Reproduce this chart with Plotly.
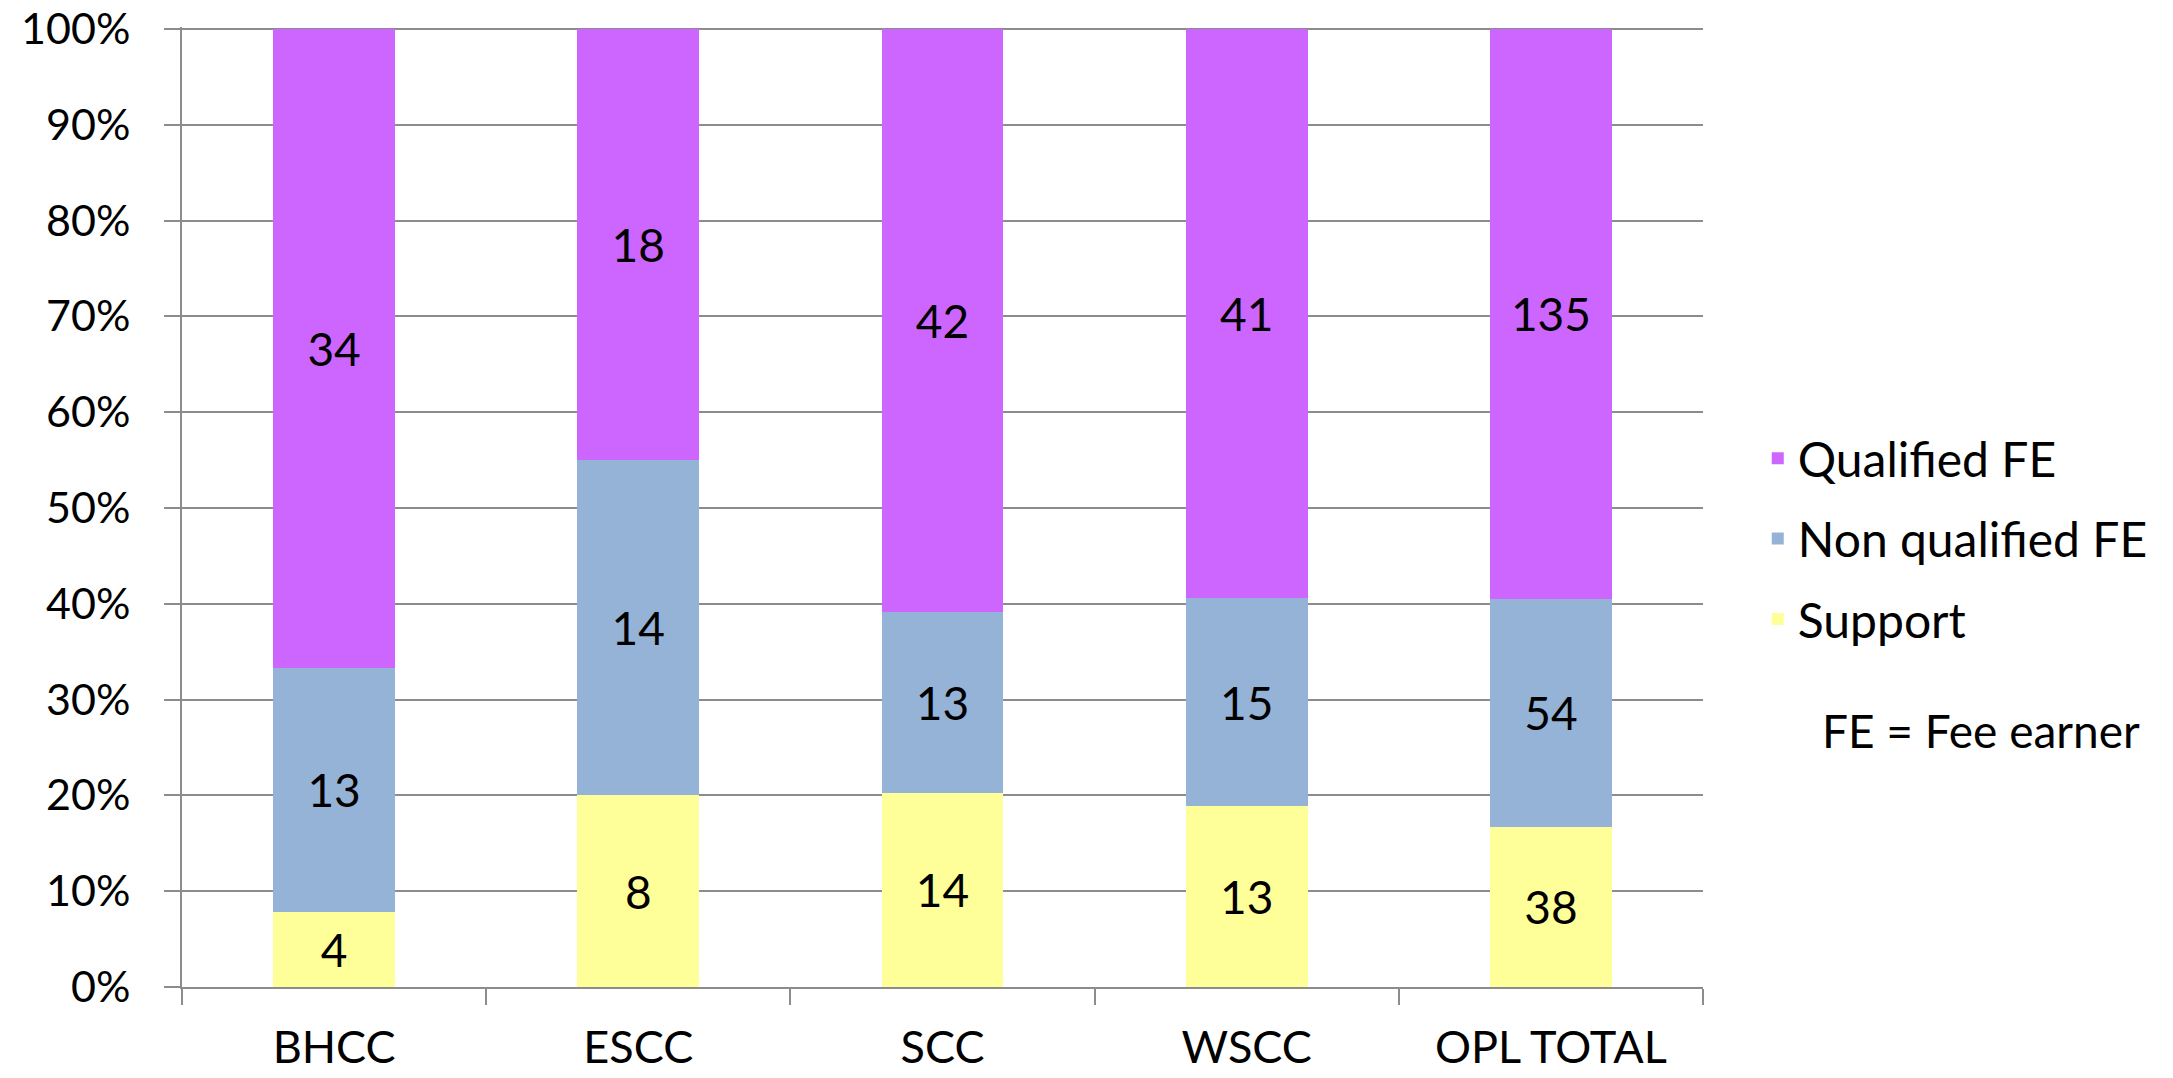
import plotly.graph_objects as go

# categories and head counts per staff type
offices = ['BHCC', 'ESCC', 'SCC', 'WSCC', 'OPL TOTAL']
support = [4, 8, 14, 13, 38]
non_qualified_fe = [13, 14, 13, 15, 54]
qualified_fe = [34, 18, 42, 41, 135]

# y-axis ticks (percent of each bar)
pct_ticks = [0, 10, 20, 30, 40, 50, 60, 70, 80, 90, 100]
pct_labels = [f'{t}%' for t in pct_ticks]

# (name, values, colour, legend rank) - stacked bottom to top
series = [
    ('Support', support, '#FFFF99', 3),
    ('Non qualified FE', non_qualified_fe, '#95B3D7', 2),
    ('Qualified FE', qualified_fe, '#CC66FF', 1),
]

FONT = 'Lato'
GRID = '#8C8C8C'

fig = go.Figure()

for name, vals, colour, rank in series:
    fig.add_trace(go.Bar(
        x=offices,
        y=vals,
        name=name,
        legendgroup=name,
        legendrank=rank,
        text=vals,
        texttemplate='%{text}',
        textposition='inside',
        insidetextanchor='middle',
        textangle=0,
        textfont=dict(family=FONT, size=46, color='black'),
        marker=dict(color=colour, line=dict(width=0)),
        width=0.4,
    ))

fig.update_layout(
    width=2173,
    height=1078,
    barmode='stack',
    barnorm='percent',
    plot_bgcolor='white',
    paper_bgcolor='white',
    margin=dict(l=182, r=470, t=27, b=91, autoexpand=False),
    font=dict(family=FONT, size=45, color='black'),
    legend=dict(
        x=1.036, xanchor='left',
        y=0.4667, yanchor='middle',
        traceorder='grouped',
        tracegroupgap=15,
        font=dict(family=FONT, size=48, color='black'),
        bgcolor='rgba(0,0,0,0)',
    ),
    xaxis=dict(
        showline=True, linecolor=GRID, linewidth=2,
        ticks='outside', ticklen=16, tickwidth=2, tickcolor=GRID,
        tickson='boundaries',
        showgrid=False,
        ticklabelstandoff=20,
        ticklabeloverflow='allow',
    ),
    yaxis=dict(
        range=[0, 100.2],
        tickmode='array', tickvals=pct_ticks, ticktext=pct_labels,
        tickfont=dict(family=FONT, size=43, color='black'),
        showline=True, linecolor=GRID, linewidth=2,
        ticks='outside', ticklen=16, tickwidth=2, tickcolor=GRID,
        showgrid=True, gridcolor=GRID, gridwidth=2,
        zeroline=False,
        ticklabelstandoff=25,
        ticklabeloverflow='allow',
    ),
    annotations=[dict(
        text='FE = Fee earner',
        xref='paper', yref='paper',
        x=1.1828, y=0.2677,
        xanchor='center', yanchor='middle',
        showarrow=False,
        font=dict(family=FONT, size=46, color='black'),
    )],
)

# drop the default 8px body margin so the figure fills the window exactly
fig.write_html(
    'out.html',
    config={'displayModeBar': False},
    post_script="document.body.style.margin = '0px';",
)
